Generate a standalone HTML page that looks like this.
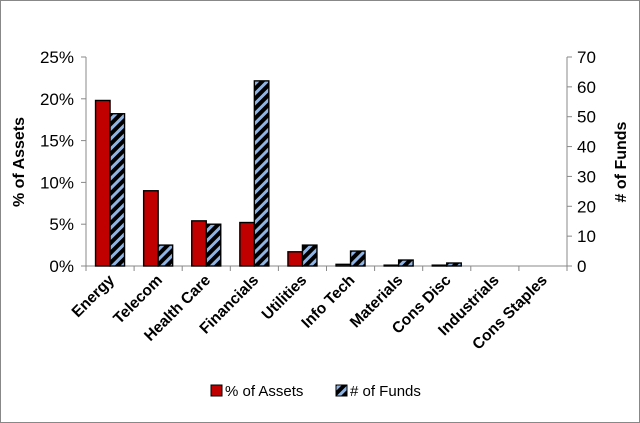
<!DOCTYPE html>
<html><head><meta charset="utf-8"><style>
html,body{margin:0;padding:0;background:#fff;}
svg{display:block;font-family:"Liberation Sans",Arial,sans-serif;}
</style></head><body>
<svg id="chart" width="640" height="423" viewBox="0 0 640 423">
<defs>
<pattern id="hatch" patternUnits="userSpaceOnUse" width="7" height="7" patternTransform="rotate(45)">
<rect width="7" height="7" fill="#000"/>
<rect x="0" y="0" width="3" height="7" fill="#8fb4e3"/>
</pattern>
</defs>
<rect x="0.5" y="0.5" width="639" height="422" fill="#fff" stroke="#888"/>
<g id="axes"></g>
<g id="bars"></g>
<text transform="translate(24,162) rotate(-90)" text-anchor="middle" font-size="16" font-weight="bold">% of Assets</text>
<text transform="translate(626,162) rotate(-90)" text-anchor="middle" font-size="16" font-weight="bold"># of Funds</text>
<g>
<g>
<rect x="211" y="385" width="11" height="11" fill="#c00000" stroke="#000"/>
<text x="225" y="396" font-size="15">% of Assets</text></g>
<g>
<rect x="336" y="385" width="11" height="11" fill="url(#hatch)" stroke="#000"/>
<text x="350" y="396" font-size="15"># of Funds</text></g>
</g>
</svg>
<script>
const categories=["Energy","Telecom","Health Care","Financials","Utilities","Info Tech","Materials","Cons Disc","Industrials","Cons Staples"];
const assetsPct=[19.8,9.0,5.4,5.2,1.7,0.2,0.1,0.1,0,0];
const fundsCount=[51,7,14,62,7,5,2,1,0,0];
const leftTicks=[0,5,10,15,20,25];
const rightTicks=[0,10,20,30,40,50,60,70];

const NS="http://www.w3.org/2000/svg";
const X0=86,X1=567,Y0=266,Y1=57;
const cw=(X1-X0)/categories.length;
const yL=v=>Y0-(v/25)*(Y0-Y1);
const yR=v=>Y0-(v/70)*(Y0-Y1);
const xC=i=>X0+i*cw;
function mk(t,a,p){const e=document.createElementNS(NS,t);for(const k in a)e.setAttribute(k,a[k]);p.appendChild(e);return e;}
const ax=document.getElementById('axes'),bg=document.getElementById('bars');
let l=mk('line',{x1:X0,y1:Y1,x2:X0,y2:Y0,stroke:'#888'},ax);


l=mk('line',{x1:X1,y1:Y1,x2:X1,y2:Y0,stroke:'#888'},ax);


l=mk('line',{x1:X0-5,y1:Y0,x2:X1+5,y2:Y0,stroke:'#888'},ax);


leftTicks.forEach(v=>{const y=yL(v);
mk('line',{x1:X0-5,y1:y,x2:X0,y2:y,stroke:'#888'},ax);
const t=mk('text',{x:X0-12,y:y+6,'text-anchor':'end','font-size':17},ax);t.textContent=v+'%';

});
rightTicks.forEach(v=>{const y=yR(v);
mk('line',{x1:X1,y1:y,x2:X1+5,y2:y,stroke:'#888'},ax);
const t=mk('text',{x:X1+10,y:y+6,'font-size':17},ax);t.textContent=v;

});
for(let i=0;i<=categories.length;i++){mk('line',{x1:xC(i),y1:Y0,x2:xC(i),y2:Y0+5,stroke:'#888'},ax);}
const bw=14.5,off=(cw-2*bw)/2;
categories.forEach((c,i)=>{
const x=xC(i)+off;
let r=mk('rect',{x:x,y:yL(assetsPct[i]),width:bw,height:Y0-yL(assetsPct[i]),fill:'#c00000',stroke:'#000','stroke-width':1.4},bg);


r=mk('rect',{x:x+bw,y:yR(fundsCount[i]),width:bw,height:Y0-yR(fundsCount[i]),fill:'url(#hatch)',stroke:'#000','stroke-width':1.4},bg);


const cx=xC(i)+cw/2+5;
const t=mk('text',{transform:`translate(${cx},${Y0+15}) rotate(-45)`,'text-anchor':'end','font-size':15.5,'font-weight':'bold'},ax);
t.textContent=c;


});
</script>
</body></html>
